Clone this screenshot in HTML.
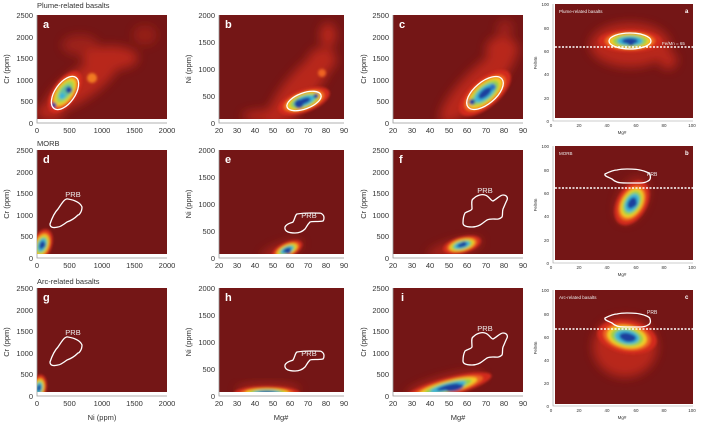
<!DOCTYPE html><html><head><meta charset="utf-8"><style>
body{margin:0;background:#fff}
text{font-family:"Liberation Sans",sans-serif;fill:#333}
.t{font-size:7.5px}.s{font-size:4.5px}
.L{font-size:11px;font-weight:bold;fill:#fff}
.w{fill:none;stroke:#fff;stroke-width:1.3}
.p{font-size:7.5px;fill:#eee}
</style></head><body>
<svg width="703" height="424" viewBox="0 0 703 424" xmlns="http://www.w3.org/2000/svg">
<defs>
<filter id="b" x="-50%" y="-50%" width="200%" height="200%"><feGaussianBlur stdDeviation="1.4"/></filter>
<filter id="h" x="-50%" y="-50%" width="200%" height="200%"><feGaussianBlur stdDeviation="5"/></filter>
<g id="blob">
<circle r="1.5" fill="#d22c1c"/><circle r="1.2" fill="#ee6420"/><circle r="1" fill="#f3cc28"/><circle r="0.82" fill="#9ad046"/><circle r="0.62" fill="#3ab4d6"/><circle r="0.38" fill="#1c3f9e"/>
</g>
<g id="blob2">
<circle r="1.5" fill="#d22c1c"/><circle r="1.2" fill="#ee6420"/><circle r="1" fill="#f3cc28"/><circle r="0.8" fill="#a8d448"/><circle r="0.55" fill="#62c0a0"/>
</g>
<path id="prb1" d="M50,89 C53,80 56,76 58,74 C62,68 65,63 68,64 C74,65 80,67 82,72 C82,77 79,80 78,80 C74,84 70,86 67,87 C63,90 60,92 58,92 C54,93 50,93 50,89Z"/>
<path id="prb2" d="M285,92 C287,88 292,88 293,87 C295,84 295,80 297,79 C303,78 308,78 312,78 C318,78 322,78 322,79 C325,81 324,85 323,86 C318,87 312,86 310,87 C307,90 306,93 305,94 C302,97 298,98 295,98 C290,98 284,97 285,92Z"/>
<path id="prb3" d="M463,88 C463,84 464,80 465,78 C468,76 471,76 472,74 C472,70 471,65 473,64 C477,60 482,59 485,60 C489,61 491,66 493,66 C497,64 500,60 503,60 C507,60 508,63 507,65 C505,69 504,72 503,74 C502,77 503,80 502,82 C499,85 496,84 493,84 C490,84 489,84 487,85 C484,87 482,89 480,90 C476,92 473,92 472,92 C467,92 463,91 463,88Z"/>
<path id="prb4" d="M605,32 C609,30 613,28 617,28 C621,27 624,27 627,27 C632,27 636,27 640,28 C645,29 650,31 650,33 C651,36 650,38 648,39 C645,41 642,41 640,41 C635,41 631,41 627,41 C622,41 619,41 617,40 C614,39 613,38 612,37 C608,35 604,34 605,32Z"/>
</defs>

<text x="37" y="8" style="font-size:7.5px">Plume-related basalts</text>
<text x="37" y="146" style="font-size:7.5px">MORB</text>
<text x="37" y="284" style="font-size:7.5px">Arc-related basalts</text>

<g>
<rect x="37" y="15" width="130" height="104" fill="#741616"/>
<rect x="219" y="15" width="125" height="104" fill="#741616"/>
<rect x="393" y="15" width="130" height="104" fill="#741616"/>
<path d="M37,15V123H167M219,15V123H344M393,15V123H523" fill="none" stroke="#999" stroke-width="0.8"/>
</g>
<g transform="translate(0,135)">
<rect x="37" y="15" width="130" height="104" fill="#741616"/>
<rect x="219" y="15" width="125" height="104" fill="#741616"/>
<rect x="393" y="15" width="130" height="104" fill="#741616"/>
<path d="M37,15V123H167M219,15V123H344M393,15V123H523" fill="none" stroke="#999" stroke-width="0.8"/>
</g>
<g transform="translate(0,273)">
<rect x="37" y="15" width="130" height="104" fill="#741616"/>
<rect x="219" y="15" width="125" height="104" fill="#741616"/>
<rect x="393" y="15" width="130" height="104" fill="#741616"/>
<path d="M37,15V123H167M219,15V123H344M393,15V123H523" fill="none" stroke="#999" stroke-width="0.8"/>
</g>
<rect x="555" y="4" width="138" height="114" fill="#741616"/>
<rect x="555" y="146" width="138" height="114" fill="#741616"/>
<rect x="555" y="290" width="138" height="114" fill="#741616"/>
<path d="M553,4V121H693M553,146V263H693M553,290V406H693" fill="none" stroke="#999" stroke-width="0.6"/>

<!-- Row 1 -->
<svg x="37" y="15" width="130" height="104" overflow="hidden"><g transform="translate(-37,-15)">
<g filter="url(#h)" fill="#c42c1c" opacity="0.85"><ellipse cx="82" cy="84" rx="44" ry="15" transform="rotate(-35 82 84)"/><ellipse cx="110" cy="58" rx="28" ry="12"/><ellipse cx="80" cy="45" rx="18" ry="10" opacity="0.6"/><ellipse cx="145" cy="35" rx="12" ry="10" opacity="0.5"/><ellipse cx="50" cy="112" rx="14" ry="8"/></g>
<g filter="url(#b)"><circle cx="92" cy="78" r="5" fill="#f07a20"/><use href="#blob2" transform="translate(65,92) rotate(-55) scale(16,8)"/><circle cx="69" cy="90" r="3.2" fill="#1c3f9e"/><circle cx="54" cy="105" r="2.5" fill="#1c3f9e"/><circle cx="62" cy="96" r="3" fill="#3ab4d6"/></g>
<ellipse class="w" cx="65" cy="93" rx="19" ry="10" transform="rotate(-55 65 93)"/>
</g></svg>
<svg x="219" y="15" width="125" height="104" overflow="hidden"><g transform="translate(-219,-15)">
<g filter="url(#h)" fill="#c42c1c" opacity="0.85"><ellipse cx="300" cy="88" rx="50" ry="15" transform="rotate(-50 300 88)"/><ellipse cx="322" cy="60" rx="14" ry="12"/><ellipse cx="328" cy="35" rx="8" ry="12"/><ellipse cx="270" cy="116" rx="28" ry="6"/></g>
<g filter="url(#b)"><circle cx="322" cy="73" r="4" fill="#ee6420"/><use href="#blob" transform="translate(304,101) rotate(-20) scale(18,7.5)"/><circle cx="299" cy="104" r="4.5" fill="#1c3f9e"/><circle cx="316" cy="96" r="2.5" fill="#1c3f9e"/></g>
<ellipse class="w" cx="304" cy="101" rx="18" ry="8" transform="rotate(-20 304 101)"/>
</g></svg>
<svg x="393" y="15" width="130" height="104" overflow="hidden"><g transform="translate(-393,-15)">
<g filter="url(#h)" fill="#c42c1c" opacity="0.85"><ellipse cx="478" cy="85" rx="52" ry="15" transform="rotate(-45 478 85)"/><ellipse cx="502" cy="50" rx="16" ry="14"/><ellipse cx="505" cy="28" rx="8" ry="8" opacity="0.6"/></g>
<g filter="url(#b)"><use href="#blob" transform="translate(485,93) rotate(-40) scale(21,9.5)"/><circle cx="472" cy="102" r="3" fill="#1c3f9e"/><circle cx="493" cy="87" r="3" fill="#2a6fc0"/></g>
<ellipse class="w" cx="485" cy="93" rx="22" ry="11" transform="rotate(-40 485 93)"/>
</g></svg>
<svg x="555" y="4" width="138" height="114" overflow="hidden"><g transform="translate(-555,-4)">
<g filter="url(#h)" fill="#c42c1c" opacity="0.85"><ellipse cx="630" cy="45" rx="40" ry="22"/><ellipse cx="668" cy="60" rx="9" ry="9"/></g>
<g filter="url(#b)"><use href="#blob" transform="translate(630,41) scale(21,7.5)"/><circle cx="631" cy="43" r="3" fill="#1c3f9e"/></g>
<ellipse class="w" cx="630" cy="41" rx="21" ry="8"/>
</g></svg>

<!-- Row 2 -->
<svg x="37" y="150" width="130" height="104" overflow="hidden"><g transform="translate(-37,-150)">
<g filter="url(#b)"><use href="#blob" transform="translate(42,245) rotate(-70) scale(11,6.5)"/><circle cx="43" cy="245" r="2.5" fill="#1c3f9e"/></g>
</g></svg>
<svg x="219" y="150" width="125" height="104" overflow="hidden"><g transform="translate(-219,-150)">
<g filter="url(#h)" fill="#c42c1c" opacity="0.7"><ellipse cx="282" cy="250" rx="22" ry="6" transform="rotate(-20 282 250)"/></g>
<g filter="url(#b)"><use href="#blob" transform="translate(287,250) rotate(-25) scale(11,5)"/><circle cx="288" cy="251" r="3" fill="#1c3f9e"/></g>
</g></svg>
<svg x="393" y="150" width="130" height="104" overflow="hidden"><g transform="translate(-393,-150)">
<g filter="url(#h)" fill="#c42c1c" opacity="0.7"><ellipse cx="455" cy="248" rx="28" ry="7" transform="rotate(-15 455 248)"/></g>
<g filter="url(#b)"><use href="#blob" transform="translate(462,245) rotate(-15) scale(13,5.5)"/><circle cx="464" cy="244" r="2.5" fill="#1c3f9e"/></g>
</g></svg>
<svg x="555" y="146" width="138" height="114" overflow="hidden"><g transform="translate(-555,-146)">
<g filter="url(#h)" fill="#c42c1c" opacity="0.6"><ellipse cx="632" cy="200" rx="14" ry="24" transform="rotate(25 632 200)"/></g>
<g filter="url(#b)"><use href="#blob" transform="translate(632,203) rotate(-60) scale(16,10)"/><circle cx="633" cy="203" r="4" fill="#1c3f9e"/></g>
</g></svg>

<!-- Row 3 -->
<svg x="37" y="288" width="130" height="104" overflow="hidden"><g transform="translate(-37,-288)">
<g filter="url(#b)"><use href="#blob" transform="translate(39,388) rotate(-80) scale(9,5)"/></g>
</g></svg>
<svg x="219" y="288" width="125" height="104" overflow="hidden"><g transform="translate(-219,-288)">
<g filter="url(#h)" fill="#c42c1c" opacity="0.7"><ellipse cx="268" cy="390" rx="32" ry="6"/></g>
<g filter="url(#b)"><use href="#blob" transform="translate(267,393) scale(22,4.5)"/><ellipse cx="268" cy="394" rx="12" ry="1.5" fill="#1c3f9e"/></g>
</g></svg>
<svg x="393" y="288" width="130" height="104" overflow="hidden"><g transform="translate(-393,-288)">
<g filter="url(#h)" fill="#c42c1c" opacity="0.8"><ellipse cx="445" cy="385" rx="40" ry="8" transform="rotate(-15 445 385)"/></g>
<g filter="url(#b)"><use href="#blob" transform="translate(448,387) rotate(-15) scale(30,6)"/><ellipse cx="455" cy="388" rx="9" ry="3" fill="#1c3f9e" transform="rotate(-15 455 388)"/></g>
</g></svg>
<svg x="555" y="290" width="138" height="114" overflow="hidden"><g transform="translate(-555,-290)">
<g filter="url(#h)" fill="#c42c1c" opacity="0.85"><ellipse cx="625" cy="347" rx="32" ry="30"/></g>
<g filter="url(#b)"><use href="#blob" transform="translate(627,337) rotate(10) scale(20,11)"/><ellipse cx="629" cy="338" rx="7" ry="4" fill="#1c3f9e"/></g>
</g></svg>

<g stroke="#fff" stroke-width="1.6" stroke-dasharray="2,1.5">
<line x1="555" y1="47" x2="693" y2="47"/><line x1="555" y1="188" x2="693" y2="188"/><line x1="555" y1="329" x2="693" y2="329"/>
</g>
<text x="662" y="45" style="font-size:4.5px;fill:#eee">Fe/Mn = 65</text>

<g transform="translate(0,135)"><use href="#prb1" class="w"/><use href="#prb2" class="w"/><use href="#prb3" class="w"/></g>
<g transform="translate(0,273)"><use href="#prb1" class="w"/><use href="#prb2" class="w"/><use href="#prb3" class="w"/></g>
<g transform="translate(0,142)"><use href="#prb4" class="w"/></g>
<g transform="translate(0,286)"><use href="#prb4" class="w"/></g>
<text class="p" x="73" y="197" text-anchor="middle">PRB</text><text class="p" x="309" y="218" text-anchor="middle">PRB</text><text class="p" x="485" y="193" text-anchor="middle">PRB</text>
<text class="p" x="73" y="335" text-anchor="middle">PRB</text><text class="p" x="309" y="356" text-anchor="middle">PRB</text><text class="p" x="485" y="331" text-anchor="middle">PRB</text>
<text x="647" y="176" style="font-size:5px;fill:#eee">PRB</text><text x="647" y="314" style="font-size:5px;fill:#eee">PRB</text>

<text class="L" x="43" y="28">a</text><text class="L" x="225" y="28">b</text><text class="L" x="399" y="28">c</text>
<text class="L" x="43" y="163">d</text><text class="L" x="225" y="163">e</text><text class="L" x="399" y="163">f</text>
<text class="L" x="43" y="301">g</text><text class="L" x="225" y="301">h</text><text class="L" x="401" y="301">i</text>
<text x="685" y="13" style="font-size:6px;font-weight:bold;fill:#fff">a</text>
<text x="685" y="155" style="font-size:6px;font-weight:bold;fill:#fff">b</text>
<text x="685" y="299" style="font-size:6px;font-weight:bold;fill:#fff">c</text>
<text x="559" y="13" style="font-size:4.5px;fill:#eee">Plume-related basalts</text>
<text x="559" y="155" style="font-size:4.5px;fill:#eee">MORB</text>
<text x="559" y="299" style="font-size:4.5px;fill:#eee">Arc-related basalts</text>

<g class="t" text-anchor="end">
<g><text x="33" y="126">0</text><text x="33" y="104">500</text><text x="33" y="83">1000</text><text x="33" y="61">1500</text><text x="33" y="40">2000</text><text x="33" y="18">2500</text>
<text x="215" y="126">0</text><text x="215" y="99">500</text><text x="215" y="72">1000</text><text x="215" y="45">1500</text><text x="215" y="18">2000</text>
<text x="389" y="126">0</text><text x="389" y="104">500</text><text x="389" y="83">1000</text><text x="389" y="61">1500</text><text x="389" y="40">2000</text><text x="389" y="18">2500</text></g>
<g transform="translate(0,135)"><text x="33" y="126">0</text><text x="33" y="104">500</text><text x="33" y="83">1000</text><text x="33" y="61">1500</text><text x="33" y="40">2000</text><text x="33" y="18">2500</text>
<text x="215" y="126">0</text><text x="215" y="99">500</text><text x="215" y="72">1000</text><text x="215" y="45">1500</text><text x="215" y="18">2000</text>
<text x="389" y="126">0</text><text x="389" y="104">500</text><text x="389" y="83">1000</text><text x="389" y="61">1500</text><text x="389" y="40">2000</text><text x="389" y="18">2500</text></g>
<g transform="translate(0,273)"><text x="33" y="126">0</text><text x="33" y="104">500</text><text x="33" y="83">1000</text><text x="33" y="61">1500</text><text x="33" y="40">2000</text><text x="33" y="18">2500</text>
<text x="215" y="126">0</text><text x="215" y="99">500</text><text x="215" y="72">1000</text><text x="215" y="45">1500</text><text x="215" y="18">2000</text>
<text x="389" y="126">0</text><text x="389" y="104">500</text><text x="389" y="83">1000</text><text x="389" y="61">1500</text><text x="389" y="40">2000</text><text x="389" y="18">2500</text></g>
</g>
<g class="t" text-anchor="middle">
<g><text x="37" y="133">0</text><text x="69.5" y="133">500</text><text x="102" y="133">1000</text><text x="134.5" y="133">1500</text><text x="167" y="133">2000</text>
<text x="219" y="133">20</text><text x="237" y="133">30</text><text x="255" y="133">40</text><text x="273" y="133">50</text><text x="290" y="133">60</text><text x="308" y="133">70</text><text x="326" y="133">80</text><text x="344" y="133">90</text>
<text x="393" y="133">20</text><text x="412" y="133">30</text><text x="430" y="133">40</text><text x="449" y="133">50</text><text x="467" y="133">60</text><text x="486" y="133">70</text><text x="504" y="133">80</text><text x="523" y="133">90</text></g>
<g transform="translate(0,135)"><text x="37" y="133">0</text><text x="69.5" y="133">500</text><text x="102" y="133">1000</text><text x="134.5" y="133">1500</text><text x="167" y="133">2000</text>
<text x="219" y="133">20</text><text x="237" y="133">30</text><text x="255" y="133">40</text><text x="273" y="133">50</text><text x="290" y="133">60</text><text x="308" y="133">70</text><text x="326" y="133">80</text><text x="344" y="133">90</text>
<text x="393" y="133">20</text><text x="412" y="133">30</text><text x="430" y="133">40</text><text x="449" y="133">50</text><text x="467" y="133">60</text><text x="486" y="133">70</text><text x="504" y="133">80</text><text x="523" y="133">90</text></g>
<g transform="translate(0,273)"><text x="37" y="133">0</text><text x="69.5" y="133">500</text><text x="102" y="133">1000</text><text x="134.5" y="133">1500</text><text x="167" y="133">2000</text>
<text x="219" y="133">20</text><text x="237" y="133">30</text><text x="255" y="133">40</text><text x="273" y="133">50</text><text x="290" y="133">60</text><text x="308" y="133">70</text><text x="326" y="133">80</text><text x="344" y="133">90</text>
<text x="393" y="133">20</text><text x="412" y="133">30</text><text x="430" y="133">40</text><text x="449" y="133">50</text><text x="467" y="133">60</text><text x="486" y="133">70</text><text x="504" y="133">80</text><text x="523" y="133">90</text></g>
</g>

<g class="t" text-anchor="middle">
<text transform="translate(9,69) rotate(-90)">Cr (ppm)</text><text transform="translate(191,69) rotate(-90)">Ni (ppm)</text><text transform="translate(366,69) rotate(-90)">Cr (ppm)</text>
<text transform="translate(9,204) rotate(-90)">Cr (ppm)</text><text transform="translate(191,204) rotate(-90)">Ni (ppm)</text><text transform="translate(366,204) rotate(-90)">Cr (ppm)</text>
<text transform="translate(9,342) rotate(-90)">Cr (ppm)</text><text transform="translate(191,342) rotate(-90)">Ni (ppm)</text><text transform="translate(366,342) rotate(-90)">Cr (ppm)</text>
<text x="102" y="420">Ni (ppm)</text><text x="281" y="420">Mg#</text><text x="458" y="420">Mg#</text>
</g>

<g class="s" text-anchor="end">
<text x="549" y="123">0</text><text x="549" y="100">20</text><text x="549" y="76">40</text><text x="549" y="53">60</text><text x="549" y="30">80</text><text x="549" y="6">100</text>
<text x="549" y="265">0</text><text x="549" y="242">20</text><text x="549" y="218">40</text><text x="549" y="195">60</text><text x="549" y="172">80</text><text x="549" y="148">100</text>
<text x="549" y="408">0</text><text x="549" y="385">20</text><text x="549" y="362">40</text><text x="549" y="339">60</text><text x="549" y="316">80</text><text x="549" y="292">100</text>
</g>
<g class="s" text-anchor="middle">
<text x="551" y="127">0</text><text x="579" y="127">20</text><text x="607" y="127">40</text><text x="636" y="127">60</text><text x="664" y="127">80</text><text x="692" y="127">100</text>
<text x="551" y="269">0</text><text x="579" y="269">20</text><text x="607" y="269">40</text><text x="636" y="269">60</text><text x="664" y="269">80</text><text x="692" y="269">100</text>
<text x="551" y="412">0</text><text x="579" y="412">20</text><text x="607" y="412">40</text><text x="636" y="412">60</text><text x="664" y="412">80</text><text x="692" y="412">100</text>
<text x="622" y="134">Mg#</text><text x="622" y="276">Mg#</text><text x="622" y="419">Mg#</text>
<text transform="translate(537,63) rotate(-90)">Fe/Mn</text><text transform="translate(537,205) rotate(-90)">Fe/Mn</text><text transform="translate(537,348) rotate(-90)">Fe/Mn</text>
</g>
</svg>
</body></html>
